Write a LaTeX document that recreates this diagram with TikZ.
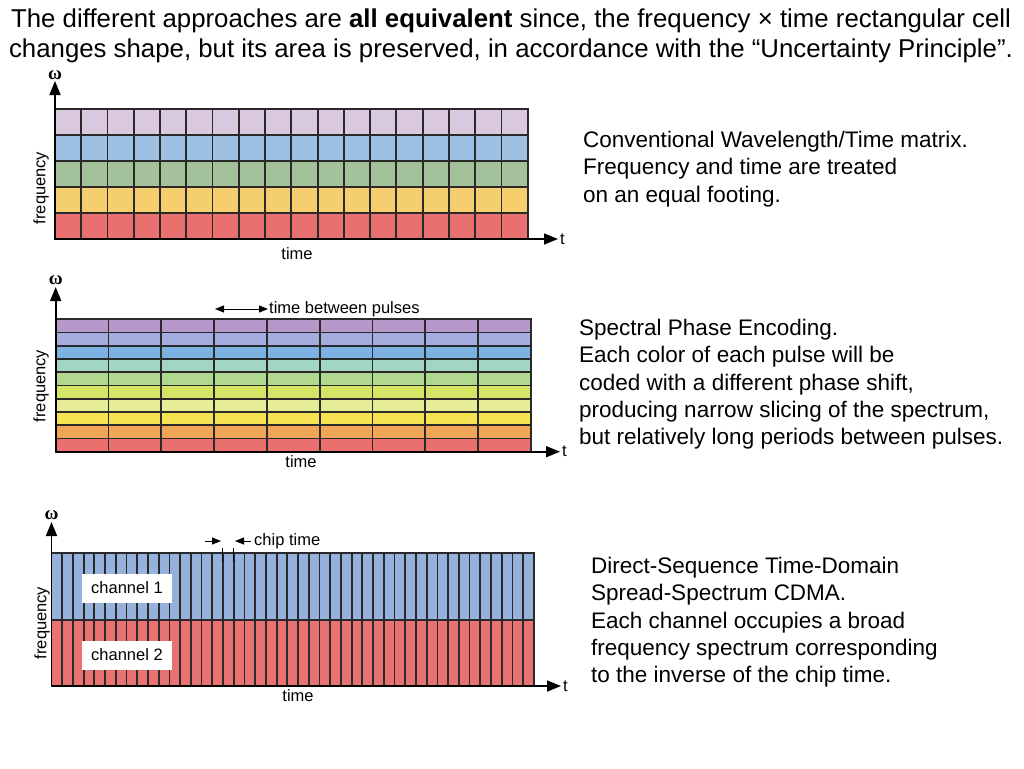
\documentclass[tikz,border=0pt]{standalone}
\usepackage{fontspec}
\setmainfont{Liberation Sans}
\newfontfamily\omegafont{Liberation Serif}
\usetikzlibrary{arrows.meta,positioning}
\definecolor{gridline}{RGB}{42,42,42}
\definecolor{lilac}{RGB}{218,200,222}
\definecolor{sky}{RGB}{158,192,226}
\definecolor{sage}{RGB}{163,194,155}
\definecolor{sand}{RGB}{245,207,110}
\definecolor{coral}{RGB}{233,112,110}
\definecolor{purp}{RGB}{182,152,202}
\definecolor{peri}{RGB}{165,172,222}
\definecolor{azure}{RGB}{125,177,226}
\definecolor{mint}{RGB}{162,214,194}
\definecolor{leaf}{RGB}{176,216,142}
\definecolor{lime}{RGB}{214,228,102}
\definecolor{cream}{RGB}{230,236,152}
\definecolor{lemon}{RGB}{246,226,82}
\definecolor{amber}{RGB}{241,166,86}
\definecolor{chblue}{RGB}{150,178,220}
\definecolor{chred}{RGB}{232,114,114}

\begin{document}
\begin{tikzpicture}[
  x=1pt, y=-1pt,
  lbl/.style={font=\fontsize{16.5}{19}\selectfont, inner sep=0pt},
  wlbl/.style={font=\fontsize{19}{20}\selectfont\omegafont\bfseries, inner sep=0pt},
  desc/.style={font=\fontsize{22.5}{27.3}\selectfont, align=left,
               anchor=north west, inner sep=0pt},
  cell/.style={draw=gridline, line width=1.8pt},
  axis/.style={line width=1.6pt, -{Triangle[length=14pt,width=11pt]}},
  span/.style={line width=1pt, -{Triangle[length=9pt,width=7pt]}},
  bispan/.style={line width=1pt, {Triangle[length=9pt,width=7pt]}-{Triangle[length=9pt,width=7pt]}},
  chan/.style={fill=white, minimum width=90pt, minimum height=29pt,
               inner sep=0pt, font=\fontsize{16.5}{19}\selectfont}
]
\useasboundingbox (0,0) rectangle (1024,768);

\node[font=\fontsize{25.8}{30}\selectfont, align=center] (head) at (511,36)
  {The different approaches are \textbf{all equivalent} since, the frequency × time rectangular cell\\
   changes shape, but its area is preserved, in accordance with the “Uncertainty Principle”.};

% conventional matrix
\foreach \c [count=\r from 0] in {lilac,sky,sage,sand,coral}
  \foreach \k in {0,...,17}
    \filldraw[cell, fill=\c] (55+\k*26.26, 109+\r*26) rectangle ++(26.26,26);
\coordinate (o1) at (55,239);
\coordinate (w1) at (55,81);
\coordinate (t1) at (558,239);
\draw[axis] (o1) -- (w1);
\draw[axis] (o1) -- (t1);
\node[wlbl, above=1pt of w1] (om1) {ω};
\node[lbl, right=2pt of t1] (tt1) {t};
\node[lbl] (time1) at (297,254) {time};
\node[lbl, rotate=90] (freq1) at (41,188) {frequency};
\node[desc] (txt1) at (583,131)
  {Conventional Wavelength/Time matrix.\\Frequency and time are treated\\on an equal footing.};

% spectral phase encoding
\foreach \c [count=\r from 0] in {purp,peri,azure,mint,leaf,lime,cream,lemon,amber,coral}
  \foreach \k in {0,...,8}
    \filldraw[cell, fill=\c] (55.7+\k*52.81, 319.3+\r*13.24) rectangle ++(52.81,13.24);
\coordinate (o2) at (55.7,451.7);
\coordinate (w2) at (55.7,287);
\coordinate (t2) at (560,451.7);
\draw[axis] (o2) -- (w2);
\draw[axis] (o2) -- (t2);
\node[wlbl, above=2pt of w2] (om2) {ω};
\node[lbl, right=2pt of t2] (tt2) {t};
\node[lbl] (time2) at (301,462) {time};
\node[lbl, rotate=90] (freq2) at (41,386) {frequency};
\coordinate (pa) at (215,309);
\coordinate (pb) at (268,309);
\draw[bispan] (pa) -- (pb);
\node[lbl, right=1pt of pb] (pulse) {time between pulses};
\node[desc] (txt2) at (579,319)
  {Spectral Phase Encoding.\\Each color of each pulse will be\\coded with a different phase shift,\\
   producing narrow slicing of the spectrum,\\but relatively long periods between pulses.};

% CDMA
\fill[chblue] (51.5,553.3) rectangle (534,619.6);
\fill[chred] (51.5,619.6) rectangle (534,686);
\foreach \k in {1,...,44}
  \draw[cell] (51.5+\k*10.72,553.3) -- ++(0,132.7);
\draw[cell] (51.5,553.3) rectangle (534,686);
\draw[cell] (51.5,619.6) -- (534,619.6);
\coordinate (o3) at (51.5,686);
\coordinate (w3) at (51.5,522);
\coordinate (t3) at (561,686);
\draw[axis] (o3) -- (w3);
\draw[axis] (o3) -- (t3);
\node[wlbl, above=2pt of w3] (om3) {ω};
\node[lbl, right=2pt of t3] (tt3) {t};
\node[lbl] (time3) at (298,696) {time};
\node[lbl, rotate=90] (freq3) at (42,623) {frequency};
\node[chan] (ch1) at (127,588) {channel 1};
\node[chan] (ch2) at (127,655) {channel 2};
\coordinate (ca) at (205,541);
\coordinate (cb) at (221,541);
\coordinate (cc) at (235,541);
\coordinate (cd) at (251,541);
\draw[span] (ca) -- (cb);
\draw[span] (cd) -- (cc);
\draw[line width=1.2pt] ([yshift=-7pt]cb.east) ++(1.5,0) -- ++(0,14);
\draw[line width=1.2pt] ([yshift=-7pt]cc.west) ++(-1.5,0) -- ++(0,14);
\node[lbl, right=3pt of cd] (chip) {chip time};
\node[desc] (txt3) at (591,557)
  {Direct-Sequence Time-Domain\\Spread-Spectrum CDMA.\\Each channel occupies a broad\\
   frequency spectrum corresponding\\to the inverse of the chip time.};
\end{tikzpicture}
\end{document}
